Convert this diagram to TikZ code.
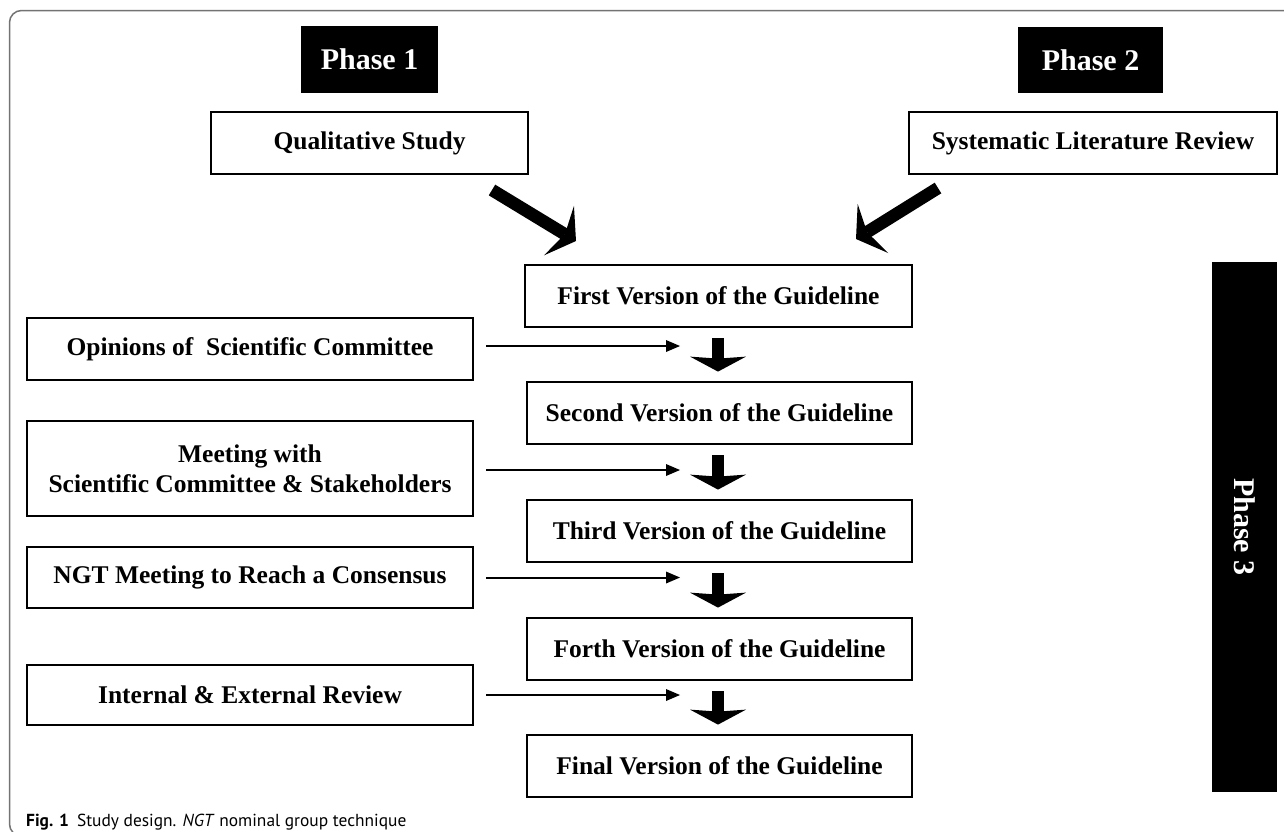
\documentclass[tikz,border=0pt]{standalone}
\usepackage{fontspec}
\setmainfont{Liberation Serif}
\newfontfamily\capfont{PT Sans}
\usetikzlibrary{arrows.meta}
\begin{document}
\begin{tikzpicture}[x=1pt,y=-1pt,
  box/.style={draw, line width=2.8pt, inner sep=0pt, minimum height=62pt,
    font=\fontsize{25.5}{30}\selectfont\bfseries, align=center},
  phasebox/.style={fill=black, text=white, inner sep=0pt,
    font=\fontsize{30}{34}\selectfont\bfseries},
  bigarrow/.style={line width=12.5pt, -{Stealth[length=20pt,width=58pt,inset=7pt,line width=0pt]}},
  downarrow/.style={line width=12.5pt, -{Stealth[length=15pt,width=56pt,inset=2pt,line width=0pt]},
    shorten <=10pt, shorten >=9pt},
  thinarrow/.style={line width=2pt, -{Triangle[length=14pt,width=12pt,line width=0pt]}},
  frame/.style={draw=black!55, line width=1.5pt, rounded corners=12pt}
]
\useasboundingbox (0,0) rectangle (1284,831);
\begin{scope}
  \clip (0,0) rectangle (1284,831);
  \draw[frame] (1300,10.5) -- (9.5,10.5) -- (9.5,836) -- (1300,836);
\end{scope}

% phase labels
\node[phasebox, minimum width=137pt, minimum height=67pt] (p1) at (369.5,59.5) {Phase 1};
\node[phasebox, minimum width=145pt, minimum height=66pt] (p2) at (1090.5,60) {Phase 2};
\node[phasebox, rotate=-90, minimum width=530pt, minimum height=65pt] (p3) at (1244.5,527) {Phase 3};

% top boxes
\node[box, minimum width=317pt] (q1) at (369.5,143) {Qualitative Study};
\node[box, minimum width=368pt] (q2) at (1093,143) {Systematic Literature Review};

% version column
\node[box, minimum width=387pt] (v1) at (718.5,296) {First Version of the Guideline};
\node[box, minimum width=385pt] (v2) at (719.5,413) {Second Version of the Guideline};
\node[box, minimum width=385pt] (v3) at (719.5,531) {Third Version of the Guideline};
\node[box, minimum width=385pt] (v4) at (719.5,649) {Forth Version of the Guideline};
\node[box, minimum width=385pt] (v5) at (719.5,766) {Final Version of the Guideline};

% left column
\node[box, minimum width=446pt] (l1) at (250,349) {Opinions of\ \ Scientific Committee};
\node[box, minimum width=446pt, minimum height=95pt] (l2) at (250,468.5) {Meeting with\\Scientific Committee \& Stakeholders};
\node[box, minimum width=446pt, minimum height=61pt] (l3) at (250,577.5) {NGT Meeting to Reach a Consensus};
\node[box, minimum width=446pt, minimum height=60pt] (l4) at (250,695) {Internal \& External Review};

% big diagonal arrows
\coordinate (d1s) at (492,190);
\coordinate (d1e) at (576,241);
\coordinate (d2s) at (938,188);
\coordinate (d2e) at (856,239);
\draw[bigarrow] (d1s) -- (d1e);
\draw[bigarrow] (d2s) -- (d2e);

% down arrows
\draw[downarrow] (v1.south -| 718,0) -- (v2.north -| 718,0);
\draw[downarrow] (v2.south -| 718,0) -- (v3.north -| 718,0);
\draw[downarrow] (v3.south -| 718,0) -- (v4.north -| 718,0);
\draw[downarrow] (v4.south -| 718,0) -- (v5.north -| 718,0);

% thin arrows
\coordinate (t) at (680,0);
\draw[thinarrow] ([xshift=12pt,yshift=3pt]l1.east) -- ([yshift=3pt]l1.east -| t);
\draw[thinarrow] ([xshift=12pt,yshift=-1.5pt]l2.east) -- ([yshift=-1.5pt]l2.east -| t);
\draw[thinarrow] ([xshift=12pt]l3.east) -- (l3.east -| t);
\draw[thinarrow] ([xshift=12pt]l4.east) -- (l4.east -| t);

% caption
\node[anchor=base west, inner sep=0pt, font=\capfont\fontsize{17.4}{21}\selectfont] (cap) at (26,826)
  {\textbf{Fig. 1}\hspace{8pt}Study design. \textit{NGT} nominal group technique};
\end{tikzpicture}
\end{document}
